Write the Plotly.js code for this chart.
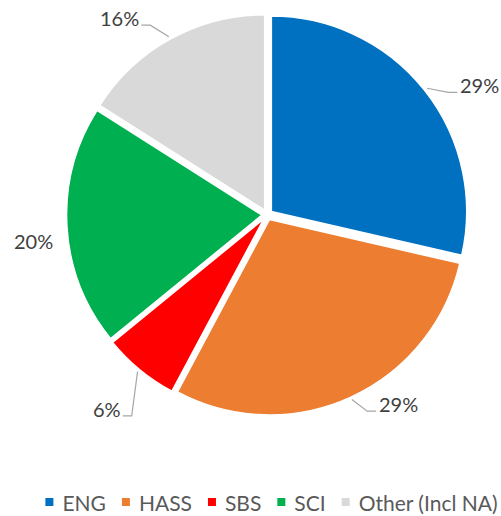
<!DOCTYPE html>
<html>
<head>
<meta charset="utf-8">
<script src="https://cdn.plot.ly/plotly-3.0.1.min.js"></script>
<style>
html,body{margin:0;padding:0;background:#fff;}
#chart{width:501px;height:516px;}
</style>
</head>
<body>
<div id="chart"></div>
<script>
// ---- data ----
const categories = ['ENG', 'HASS', 'SBS', 'SCI', 'Other (Incl NA)'];
const values = [28.6, 29.2, 6.3, 19.9, 16.0];
const colors = ['#0070C0', '#ED7D31', '#FF0000', '#00B050', '#D9D9D9'];

// ---- layout constants (not data) ----
const W = 501, H = 516;
const pull = 0.027;
const domX = [0.1317, 0.9351];
const domY = [0.1903, 0.9725];
const labelAngleNudge = [7, -10, 0, -3, -8];   // degrees, label placement tweak
const labelRadius = [1.27, 1.18, 1.29, 1.2, 1.26]; // in units of pie radius
const FONT = 'Lato, "Open Sans", sans-serif';
const labelSize = 20;
const legendSize = 21;
const legendCenterX = 271.5; // px
const legendMarkerY = 502;   // px
const legendTextDy = 3;      // px, text sits a little below marker centre

// pie geometry in pixels, matching Plotly's own scaling
const boxW = (domX[1] - domX[0]) * W, boxH = (domY[1] - domY[0]) * H;
const R = Math.min(boxW, boxH) / (2 + 2 * pull);
const cx = (domX[0] + domX[1]) / 2 * W;
const cy = H - (domY[0] + domY[1]) / 2 * H;
const total = values.reduce((a, b) => a + b, 0);

const annotations = [];
const shapes = [];
let cum = 0;
values.forEach((v, i) => {
  const mid = (cum + v / 2) / total * 2 * Math.PI; // clockwise from 12 o'clock
  cum += v;
  const ux = Math.sin(mid), uy = -Math.cos(mid);
  const ex = cx + ux * (R * (1 + pull) + 3), ey = cy + uy * (R * (1 + pull) + 3);
  const la = mid + labelAngleNudge[i] * Math.PI / 180;
  const lx = cx + Math.sin(la) * R * labelRadius[i];
  const ly = cy - Math.cos(la) * R * labelRadius[i];
  const txt = Math.round(v / total * 100) + '%';
  annotations.push({
    x: lx / W, y: 1 - ly / H, xref: 'paper', yref: 'paper',
    text: txt, showarrow: false,
    font: {family: FONT, size: labelSize, color: '#404040'},
    xanchor: 'center', yanchor: 'middle'
  });
  const side = lx > cx ? -1 : 1;
  const halfW = txt.length * 0.3 * labelSize;
  const ax = lx + side * (halfW + 4), ay = ly + 7;
  const kx = ax + side * 9;
  const dist = Math.hypot(ax - ex, ay - ey);
  if (dist > 25) {
    const p = (x, y) => (x / W) + ',' + (1 - y / H);
    shapes.push({
      type: 'path', xref: 'paper', yref: 'paper',
      path: 'M' + p(ex, ey) + ' L' + p(kx, ay) + ' L' + p(ax, ay),
      line: {color: '#A6A6A6', width: 1.2}
    });
  }
});

const trace = {
  type: 'pie',
  labels: categories,
  values: values,
  sort: false,
  direction: 'clockwise',
  rotation: 0,
  pull: values.map(() => pull),
  marker: {colors: colors, line: {color: '#ffffff', width: 1.5}},
  textinfo: 'none',
  hoverinfo: 'label+percent',
  domain: {x: domX, y: domY}
};

const layout = {
  width: W, height: H,
  margin: {l: 0, r: 0, t: 0, b: 0},
  paper_bgcolor: '#ffffff',
  showlegend: true,
  legend: {
    orientation: 'h', x: 0.5, xanchor: 'center', y: 1 - legendMarkerY / H, yanchor: 'middle',
    font: {family: FONT, size: 16, color: '#595959'},
    itemclick: false, itemdoubleclick: false
  },
  annotations: annotations,
  shapes: shapes
};

function originOf(el) {
  const m = el.getCTM();
  return m ? [m.e, m.f] : [0, 0];
}

function layoutLegend() {
  const leg = document.querySelector('.legend');
  if (!leg) return;
  leg.querySelectorAll('[clip-path]').forEach(el => el.removeAttribute('clip-path'));
  const items = Array.from(leg.querySelectorAll('.traces'));
  const symGap = 13, itemGap = 20, half = 4;
  const widths = items.map(it => {
    const t = it.querySelector('.legendtext');
    t.style.fontSize = legendSize + 'px';
    t.style.fontFamily = FONT;
    t.setAttribute('x', symGap + 20);
    if (!t.dataset.y0) t.dataset.y0 = t.getAttribute('y') || '0';
    t.setAttribute('y', parseFloat(t.dataset.y0) + legendTextDy);
    return t.getBBox().width;
  });
  const totalW = half + widths.reduce((a, w) => a + symGap + w, 0) + itemGap * (items.length - 1);
  let xPos = legendCenterX - totalW / 2 + half; // marker centre, absolute
  items.forEach((it, i) => {
    const [px, py] = originOf(it.parentNode);
    it.setAttribute('transform', 'translate(' + (xPos - px - 20) + ',' + (legendMarkerY - py) + ')');
    it.querySelectorAll('.legendpoints path').forEach(el => {
      el.setAttribute('d', 'M' + half + ',' + half + 'H-' + half + 'V-' + half + 'H' + half + 'Z');
      el.style.strokeWidth = '0';
    });
    xPos += symGap + widths[i] + itemGap;
  });
  const bg = leg.querySelector('.bg');
  if (bg) bg.style.display = 'none';
}

Plotly.newPlot('chart', [trace], layout, {displayModeBar: false, staticPlot: true}).then(() => {
  layoutLegend();
  if (document.fonts && document.fonts.ready) document.fonts.ready.then(layoutLegend);
  requestAnimationFrame(layoutLegend);
  setTimeout(layoutLegend, 60);
});
</script>
</body>
</html>
